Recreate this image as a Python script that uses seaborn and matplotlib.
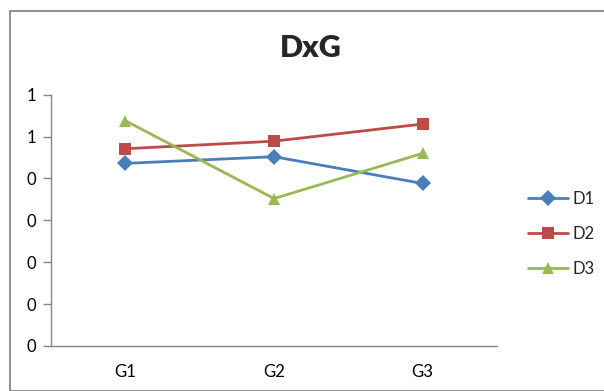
import matplotlib
matplotlib.use("Agg")
import matplotlib.pyplot as plt
import seaborn as sns
import pandas as pd
from matplotlib.patches import Rectangle
from matplotlib.ticker import FuncFormatter, MultipleLocator

groups = ["G1", "G2", "G3"]
series = ["D1", "D2", "D3"]
d1 = [0.436, 0.452, 0.388]
d2 = [0.471, 0.489, 0.530]
d3 = [0.538, 0.352, 0.460]
title = "DxG"

colors = ["#4A7EBB", "#BE4B48", "#98B954"]
markers = ["D", "s", "^"]

df = pd.DataFrame({
    "group": groups * 3,
    "series": [s for s in series for _ in groups],
    "value": d1 + d2 + d3,
})
df["x"] = df["group"].map({g: i for i, g in enumerate(groups)})

sns.set_style("white")
plt.rcParams["font.family"] = ["Lato", "DejaVu Sans"]

W, H = 604, 391
fig = plt.figure(figsize=(W / 100, H / 100), dpi=100)
ax = fig.add_axes([51 / W, (H - 346) / H, (497 - 51) / W, (346 - 94.7) / H])

sns.lineplot(data=df, x="x", y="value", hue="series", style="series",
             palette=colors, markers=markers, dashes=False, linewidth=2,
             markersize=8, markeredgewidth=0, ax=ax, legend=True)

ax.set_xlim(-0.5, 2.5)
ax.set_ylim(0, 0.6)
ax.set_xticks(range(len(groups)))
ax.set_xticklabels(groups)
ax.yaxis.set_major_locator(MultipleLocator(0.1))
ax.yaxis.set_major_formatter(FuncFormatter(lambda v, p: f"{int(v + 0.5 + 1e-9)}"))
ax.set_xlabel("")
ax.set_ylabel("")
for s in ["top", "right"]:
    ax.spines[s].set_visible(False)
for s in ["left", "bottom"]:
    ax.spines[s].set_color("#868686")
    ax.spines[s].set_linewidth(1)
ax.tick_params(axis="y", which="major", length=6, width=1, color="#868686",
               direction="out", left=True, pad=5, labelsize=12, labelcolor="#000000")
ax.tick_params(axis="x", length=0, pad=13, labelsize=12, labelcolor="#000000")

leg = ax.legend(loc="center left", bbox_to_anchor=(513 / W, (H - 234) / H),
                bbox_transform=fig.transFigure, frameon=False, fontsize=12,
                handlelength=2.4, labelspacing=1.15, handletextpad=0.3)

fig.text(311 / W, (H - 48) / H, title, ha="center", va="center",
         fontsize=22, fontweight="heavy")

fig.patches.append(Rectangle((9.5 / W, 0), 1.2, (H - 10.5) / H,
                             transform=fig.transFigure, fill=False,
                             edgecolor="#868686", linewidth=1.3))

fig.savefig("out.png", dpi=100, facecolor="white")
